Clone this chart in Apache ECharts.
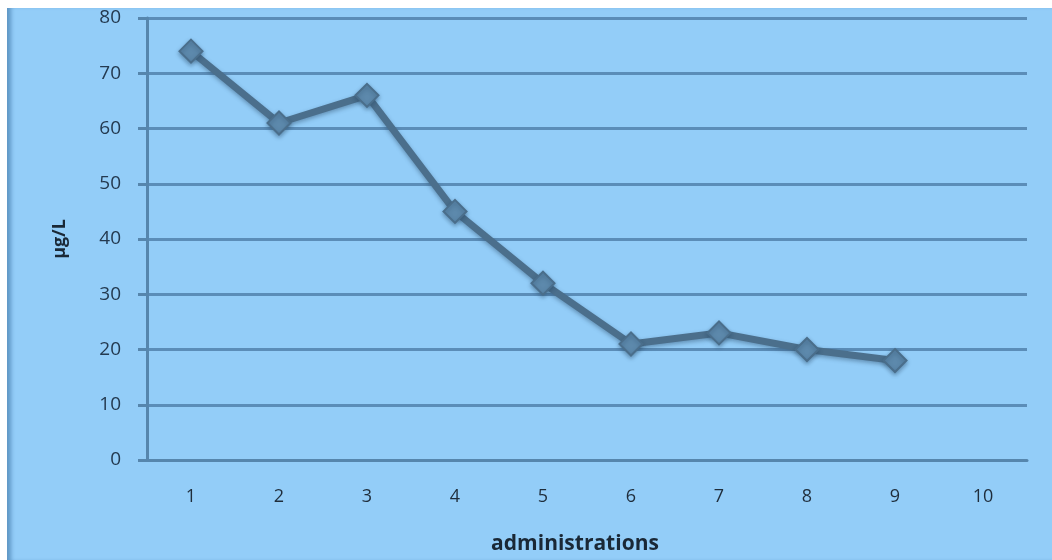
<!DOCTYPE html>
<html>
<head>
<meta charset="utf-8">
<script src="https://cdn.jsdelivr.net/npm/echarts@6/dist/echarts.min.js"></script>
<style>
  html, body { margin: 0; padding: 0; background: #ffffff; }
  #frame {
    position: absolute; left: 7px; top: 8px; width: 1045px; height: 552px;
    background: #93cdf8;
    box-shadow: inset 6px 0 4px -2px #5f97c6;
  }
  #chart { position: absolute; left: 0; top: 0; width: 1045px; height: 552px; }
</style>
</head>
<body>
<div id="frame"><div id="chart"></div></div>
<script>
// Measured concentration after each administration
const administrations = ['1', '2', '3', '4', '5', '6', '7', '8', '9', '10'];
const concentration = [74, 61, 66, 45, 32, 21, 23, 20, 18, null];
const yTicks = { min: 0, max: 80, interval: 10 };

const chart = echarts.init(document.getElementById('chart'), null, { renderer: 'canvas' });
const labelFont = '"Open Sans", Lato, sans-serif';

chart.setOption({
  backgroundColor: 'transparent',
  animation: false,
  grid: { left: 140, right: 25, top: 10, bottom: 99 },
  xAxis: {
    type: 'category',
    data: administrations,
    boundaryGap: true,
    name: 'administrations',
    nameLocation: 'middle',
    nameGap: 74,
    nameTextStyle: { fontFamily: labelFont, fontSize: 21, fontWeight: 'bold', color: '#1a2836', padding: [0, 24, 0, 0] },
    axisLine: { show: true, lineStyle: { color: '#5686ad', width: 3 } },
    axisTick: { show: false },
    axisLabel: { margin: 28, fontFamily: labelFont, fontSize: 18, color: '#1f2d3b' },
    splitLine: { show: false }
  },
  yAxis: {
    type: 'value',
    min: yTicks.min,
    max: yTicks.max,
    interval: yTicks.interval,
    name: 'µg/L',
    nameLocation: 'middle',
    nameGap: 78,
    nameRotate: 90,
    nameTextStyle: { fontFamily: labelFont, fontSize: 18, fontWeight: 'bold', color: '#1a2836' },
    axisLine: { show: true, lineStyle: { color: '#5686ad', width: 3 } },
    axisTick: { show: true, length: 9, lineStyle: { color: '#5686ad', width: 3 } },
    axisLabel: { margin: 26, fontFamily: labelFont, fontSize: 19, color: '#243a50' },
    splitLine: { show: true, lineStyle: { color: '#5b8db8', width: 3 } }
  },
  series: [{
    type: 'line',
    data: concentration,
    connectNulls: false,
    symbol: 'diamond',
    symbolSize: 23,
    lineStyle: {
      color: '#4b6f8c', width: 7,
      shadowColor: 'rgba(40,70,100,0.45)', shadowBlur: 4, shadowOffsetY: 2
    },
    itemStyle: {
      color: '#5d89ac', borderColor: '#4a6e8b', borderWidth: 2,
      shadowColor: 'rgba(40,70,100,0.45)', shadowBlur: 4, shadowOffsetY: 2
    }
  }]
});
</script>
</body>
</html>
